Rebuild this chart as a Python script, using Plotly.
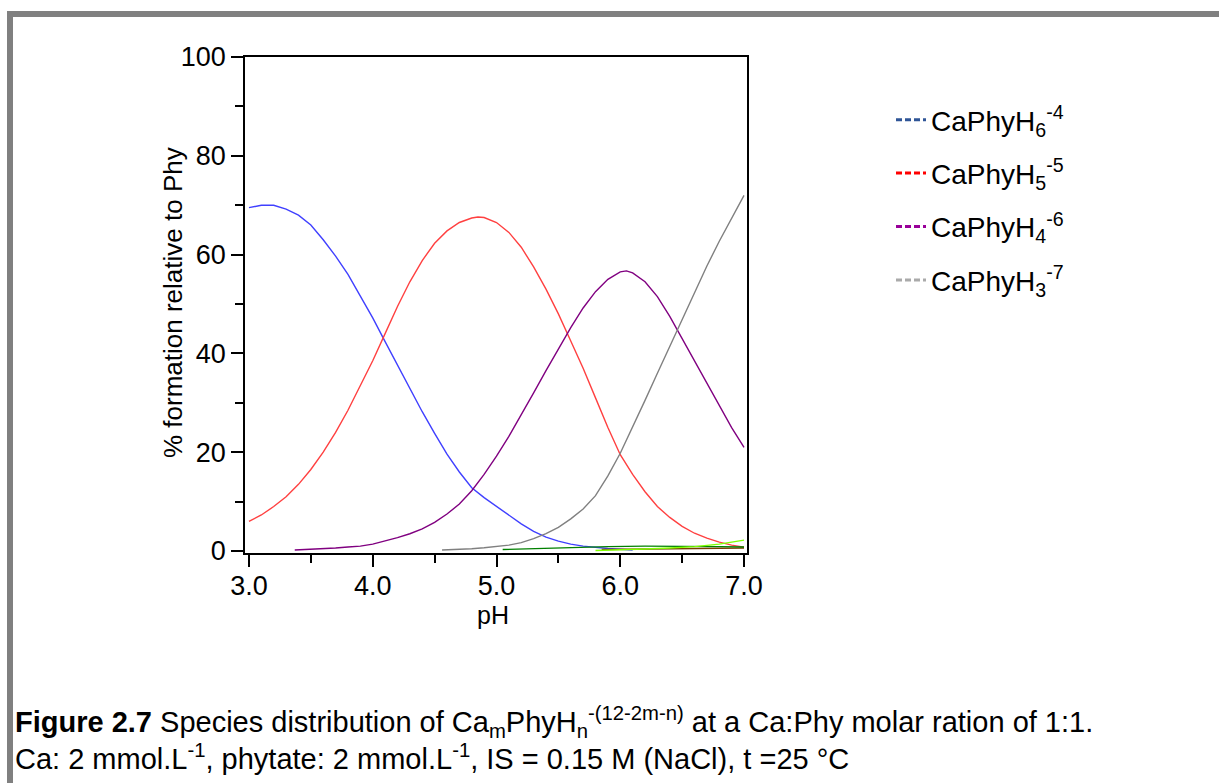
import plotly.graph_objects as go

# ---------------- data ----------------
ph_blue = [3.0, 3.1, 3.2, 3.3, 3.4, 3.5, 3.6, 3.7, 3.8, 3.9, 4.0, 4.1, 4.2, 4.3, 4.4, 4.5,
           4.6, 4.7, 4.8, 4.9, 5.0, 5.1, 5.2, 5.3, 5.4, 5.5, 5.6, 5.7, 5.8, 5.9, 6.0, 6.1]
val_blue = [69.5, 70.0, 70.0, 69.2, 68.0, 66.0, 63.0, 59.7, 56.0, 51.7, 47.2, 42.4, 37.6, 32.8, 28.2, 23.8,
            19.6, 16.0, 12.8, 10.8, 9.0, 7.2, 5.5, 4.0, 2.8, 2.0, 1.4, 1.0, 0.7, 0.5, 0.35, 0.2]

ph_red = [3.0, 3.1, 3.2, 3.3, 3.4, 3.5, 3.6, 3.7, 3.8, 3.9, 4.0, 4.1, 4.2, 4.3, 4.4, 4.5, 4.6, 4.7,
          4.8, 4.85, 4.9, 5.0, 5.1, 5.2, 5.3, 5.4, 5.5, 5.6, 5.7, 5.8, 5.9, 6.0, 6.1, 6.2, 6.3, 6.4,
          6.5, 6.6, 6.7, 6.8, 6.9, 7.0]
val_red = [6.0, 7.3, 9.0, 11.0, 13.5, 16.5, 20.0, 24.0, 28.5, 33.5, 38.5, 44.0, 49.5, 54.5, 58.8, 62.3, 64.8, 66.5,
           67.4, 67.6, 67.5, 66.5, 64.5, 61.5, 57.5, 53.0, 48.0, 42.5, 37.0, 31.0, 25.0, 19.5, 15.5, 12.0, 9.0, 6.8,
           5.0, 3.6, 2.6, 1.8, 1.2, 0.8]

ph_purple = [3.37, 3.5, 3.6, 3.7, 3.8, 3.9, 4.0, 4.1, 4.2, 4.3, 4.4, 4.5, 4.6, 4.7, 4.8, 4.9, 5.0, 5.1,
             5.2, 5.3, 5.4, 5.5, 5.6, 5.7, 5.8, 5.9, 6.0, 6.05, 6.1, 6.2, 6.3, 6.4, 6.5, 6.6, 6.7, 6.8, 6.9, 7.0]
val_purple = [0.2, 0.3, 0.4, 0.6, 0.8, 1.0, 1.4, 2.0, 2.7, 3.5, 4.5, 5.8, 7.5, 9.5, 12.2, 15.5, 19.2, 23.2,
              27.5, 32.0, 36.5, 41.0, 45.2, 49.2, 52.5, 55.0, 56.5, 56.7, 56.3, 54.5, 51.5, 47.5, 43.0, 38.5, 34.0, 29.5, 25.0, 21.0]

ph_gray = [4.56, 4.7, 4.8, 4.9, 5.0, 5.1, 5.2, 5.3, 5.4, 5.5, 5.6, 5.7, 5.8, 5.9, 6.0, 6.1, 6.2, 6.3,
           6.4, 6.5, 6.6, 6.7, 6.8, 6.9, 7.0]
val_gray = [0.2, 0.3, 0.45, 0.65, 0.9, 1.2, 1.7, 2.5, 3.5, 4.8, 6.5, 8.5, 11.2, 15.2, 19.8, 25.0, 30.5, 36.0,
            41.5, 47.0, 52.5, 57.7, 62.7, 67.5, 72.0]

ph_green = [5.05, 5.3, 5.6, 5.9, 6.2, 6.5, 6.8, 7.0]
val_green = [0.3, 0.5, 0.7, 0.9, 1.0, 1.0, 0.9, 0.8]

ph_lime = [5.8, 6.0, 6.2, 6.4, 6.6, 6.8, 6.9, 7.0]
val_lime = [0.1, 0.2, 0.4, 0.6, 0.9, 1.4, 1.8, 2.2]

ph_brown = [5.85, 6.2, 6.6, 7.0]
val_brown = [0.3, 0.4, 0.6, 0.6]

legend_names = ["CaPhyH<sub>6</sub><sup>-4</sup>", "CaPhyH<sub>5</sub><sup>-5</sup>",
                "CaPhyH<sub>4</sub><sup>-6</sup>", "CaPhyH<sub>3</sub><sup>-7</sup>"]
legend_colors = ["#2f5597", "#ff0000", "#990099", "#aaaaaa"]

x_ticks = [3, 4, 5, 6, 7]
x_minor = [3.5, 4.5, 5.5, 6.5]
y_ticks = [0, 20, 40, 60, 80, 100]
y_minor = [10, 30, 50, 70, 90]

# ---------------- layout geometry ----------------
W, H = 1219, 783
L, R, T, B = 245, 747, 57, 553
FONT = "Liberation Sans, Arial, Helvetica, sans-serif"


def px(xp):
    return (xp - L) / (R - L)


def py(yp):
    return (B - yp) / (B - T)


fig = go.Figure()

series = [
    (ph_blue, val_blue, "#4040ff"),
    (ph_red, val_red, "#ff4040"),
    (ph_purple, val_purple, "#800080"),
    (ph_gray, val_gray, "#808080"),
    (ph_brown, val_brown, "#7a3d00"),
    (ph_green, val_green, "#008000"),
    (ph_lime, val_lime, "#80ff00"),
]
for xs, ys, c in series:
    fig.add_trace(go.Scatter(x=xs, y=ys, mode="lines", line=dict(color=c, width=1.4),
                             showlegend=False, hoverinfo="skip"))

for i, (n, c) in enumerate(zip(legend_names, legend_colors)):
    fig.add_trace(go.Scatter(x=[None], y=[None], mode="lines", name=n, legendgroup=f"g{i}",
                             line=dict(color=c, width=3, dash="6px,3px")))

TICKFONT = dict(family=FONT, size=27, color="black")

fig.update_layout(
    width=W, height=H,
    margin=dict(l=L, r=W - R, t=T, b=H - B, pad=0),
    paper_bgcolor="white", plot_bgcolor="white",
    font=dict(family=FONT, color="black", size=22),
    showlegend=True,
    legend=dict(x=px(891), y=py(95), xanchor="left", yanchor="top",
                font=dict(family=FONT, size=28, color="black"),
                tracegroupgap=14, bgcolor="rgba(0,0,0,0)", borderwidth=0),
    xaxis=dict(range=[2.968, 7.024], tickvals=x_ticks, tickformat=".1f",
               ticks="outside", ticklen=12, tickwidth=1.5, tickcolor="black",
               ticklabelstandoff=-4,
               minor=dict(tickvals=x_minor, ticks="outside", ticklen=8, tickwidth=1.5, tickcolor="black"),
               showline=True, linecolor="black", linewidth=1.5, mirror=True,
               showgrid=False, zeroline=False, tickfont=TICKFONT),
    yaxis=dict(range=[-0.4, 100], tickvals=y_ticks,
               ticks="outside", ticklen=12, tickwidth=1.5, tickcolor="black",
               minor=dict(tickvals=y_minor, ticks="outside", ticklen=8, tickwidth=1.5, tickcolor="black"),
               showline=True, linecolor="black", linewidth=1.5, mirror=True,
               showgrid=False, zeroline=False, tickfont=TICKFONT),
)

# gray page frame
fig.add_shape(type="rect", xref="paper", yref="paper", x0=px(7), x1=px(1219), y0=py(11), y1=py(17),
              fillcolor="#808080", line=dict(width=0), layer="above")
fig.add_shape(type="rect", xref="paper", yref="paper", x0=px(7), x1=px(13), y0=py(11), y1=py(783),
              fillcolor="#808080", line=dict(width=0), layer="above")

ann = []
ann.append(dict(text="% formation relative to Phy", x=px(173), y=py(303), xref="paper", yref="paper",
                textangle=-90, showarrow=False, font=dict(family=FONT, size=26, color="black"),
                xanchor="center", yanchor="middle"))
ann.append(dict(text="pH", x=px(493), y=py(615), xref="paper", yref="paper", showarrow=False,
                font=dict(family=FONT, size=25, color="black"), xanchor="center", yanchor="middle"))
ann.append(dict(text="<b>Figure 2.7</b> Species distribution of Ca<sub>m</sub>PhyH<sub>n</sub><sup>-(12-2m-n)</sup> at a Ca:Phy molar ration of 1:1.",
                x=px(13), y=py(722), xref="paper", yref="paper", showarrow=False,
                font=dict(family=FONT, size=29, color="black"), xanchor="left", yanchor="middle", align="left"))
ann.append(dict(text="Ca: 2 mmol.L<sup>-1</sup>, phytate: 2 mmol.L<sup>-1</sup>, IS = 0.15 M (NaCl), t =25 °C",
                x=px(13), y=py(757), xref="paper", yref="paper", showarrow=False,
                font=dict(family=FONT, size=29, color="black"), xanchor="left", yanchor="middle", align="left"))
fig.update_layout(annotations=ann)

fig.write_html("out.html")
